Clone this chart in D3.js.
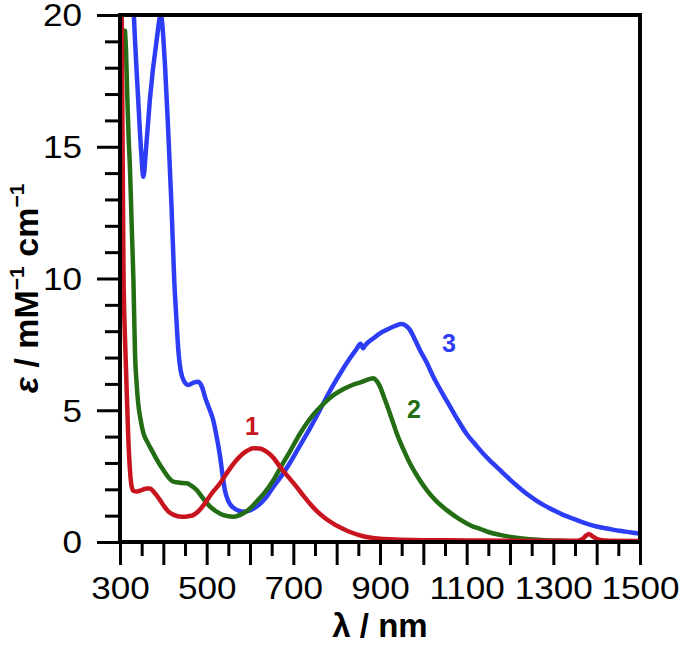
<!DOCTYPE html>
<html>
<head>
<meta charset="utf-8">
<script src="https://cdn.jsdelivr.net/npm/d3@7/dist/d3.min.js"></script>
<style>
  html, body { margin: 0; padding: 0; background: #fff; }
  svg { display: block; }
  text { font-family: "Liberation Sans", Arial, Helvetica, sans-serif; }
</style>
</head>
<body>
<svg id="chart" width="680" height="645"></svg>
<script>
// ---- data (wavelength in nm, epsilon in mM^-1 cm^-1) ----
const redNm  = [300, 304, 308, 311, 314, 319, 323, 327, 332, 339, 350, 362, 369, 378, 392, 402, 412, 425, 442, 458, 469, 483, 496, 512, 531, 550, 569, 590, 608, 622, 638, 654, 669, 688, 708, 725, 740, 755, 772, 792, 812, 831, 850, 869, 900, 946, 1000, 1100, 1200, 1300, 1355, 1368, 1376, 1382, 1390, 1400, 1412, 1430, 1500];
const redEps = [30, 20, 10.3, 8, 6.5, 4.0, 2.73, 2.1, 1.93, 1.92, 1.97, 2.03, 2.03, 1.9, 1.6, 1.35, 1.15, 1.02, 0.96, 0.98, 1.02, 1.2, 1.47, 1.85, 2.23, 2.7, 3.11, 3.43, 3.56, 3.55, 3.43, 3.2, 2.86, 2.48, 2.08, 1.72, 1.42, 1.16, 0.92, 0.7, 0.52, 0.38, 0.27, 0.19, 0.12, 0.09, 0.07, 0.06, 0.05, 0.05, 0.05, 0.12, 0.25, 0.3, 0.22, 0.12, 0.07, 0.05, 0.04];

const greenNm  = [311.5, 314, 317, 320, 323, 327, 331, 334.6, 338, 342, 348, 354, 363, 373, 386, 400, 412, 423, 438, 454, 466, 477, 492, 508, 523, 538.5, 561.5, 584.6, 600, 615, 635, 654, 673, 692, 715, 735, 755, 775, 795, 815, 835, 855, 875, 884, 892, 900, 908, 917, 927, 938.5, 953, 969, 988, 1008, 1030, 1054, 1085, 1115, 1131, 1150, 1177, 1210, 1246, 1280, 1330];
const greenEps = [19.4, 18.6, 16.8, 15.3, 14.2, 12.0, 9.94, 7.16, 6.1, 5.26, 4.6, 4.13, 3.8, 3.49, 3.1, 2.73, 2.45, 2.29, 2.25, 2.23, 2.12, 1.97, 1.65, 1.34, 1.15, 1.02, 0.96, 1.09, 1.27, 1.53, 1.9, 2.35, 2.9, 3.43, 4.1, 4.6, 5.0, 5.33, 5.6, 5.8, 5.95, 6.06, 6.18, 6.21, 6.12, 5.9, 5.55, 5.15, 4.68, 4.13, 3.55, 2.99, 2.45, 1.97, 1.55, 1.21, 0.85, 0.58, 0.5, 0.38, 0.27, 0.17, 0.1, 0.07, 0.04];

const blueNm  = [320, 332, 342, 348.5, 354, 360, 369, 384.6, 394, 404, 411.5, 419, 425, 430, 435, 440, 448, 458, 470, 481, 490, 496, 505, 515, 523, 531, 537, 542, 550, 561.5, 575, 585, 600, 615, 635, 654, 673, 692, 715, 738, 754, 773, 792, 812, 831, 845, 855, 858, 861, 865, 885, 900, 915, 935, 950, 960, 969, 980, 992, 1008, 1023, 1042, 1062, 1080, 1100, 1120, 1140, 1160, 1180, 1200, 1220, 1240, 1260, 1280, 1300, 1320, 1340, 1360, 1380, 1400, 1420, 1440, 1460, 1480, 1500];
const blueEps = [26, 20, 16.8, 14.9, 13.86, 14.9, 16.8, 19.05, 20.0, 18.04, 15.5, 12.7, 10.0, 8.5, 7.2, 6.5, 6.1, 5.96, 6.05, 6.08, 5.85, 5.51, 5.1, 4.63, 4.0, 3.24, 2.5, 1.97, 1.55, 1.3, 1.18, 1.15, 1.2, 1.34, 1.65, 2.1, 2.52, 3.0, 3.65, 4.3, 4.78, 5.38, 5.95, 6.5, 6.98, 7.3, 7.52, 7.45, 7.35, 7.45, 7.73, 7.92, 8.05, 8.2, 8.27, 8.2, 8.05, 7.7, 7.29, 6.8, 6.27, 5.7, 5.13, 4.62, 4.1, 3.7, 3.32, 2.99, 2.68, 2.37, 2.08, 1.81, 1.58, 1.38, 1.21, 1.05, 0.92, 0.79, 0.68, 0.59, 0.52, 0.46, 0.41, 0.36, 0.32];

const xMajorTicks = [300, 400, 500, 600, 700, 800, 900, 1000, 1100, 1200, 1300, 1400, 1500];
const xLabelTicks = [300, 500, 700, 900, 1100, 1300, 1500];
const xMinorTicks = [350, 450, 550, 650, 750, 850, 950, 1050, 1150, 1250, 1350, 1450];
const yMajorTicks = [0, 5, 10, 15, 20];
const yMinorTicks = [1, 2, 3, 4, 6, 7, 8, 9, 11, 12, 13, 14, 16, 17, 18, 19];

const seriesNames = ["3", "2", "1"];
const colors = { "1": "#c8141e", "2": "#236e14", "3": "#2c3df5" };

// ---- layout ----
const svg = d3.select("#chart");
const L = 120, R = 640, T = 15, B = 542;
const x = d3.scaleLinear().domain([300, 1500]).range([L, R]);
const y = d3.scaleLinear().domain([0, 20]).range([B, T]);
const SX = 1.15; // horizontal stretch of tick label glyphs

svg.append("defs").append("clipPath").attr("id", "clip")
  .append("rect").attr("x", L).attr("y", T).attr("width", R - L).attr("height", B - T);

const line = d3.line().x(d => x(d[0])).y(d => y(d[1])).curve(d3.curveMonotoneX);

const series = {
  "1": redNm.map((v, i) => [v, redEps[i]]),
  "2": greenNm.map((v, i) => [v, greenEps[i]]),
  "3": blueNm.map((v, i) => [v, blueEps[i]])
};

const g = svg.append("g").attr("clip-path", "url(#clip)");
seriesNames.forEach(k => {
  g.append("path").datum(series[k])
    .attr("d", line)
    .attr("fill", "none")
    .attr("stroke", colors[k])
    .attr("stroke-width", 4.5)
    .attr("stroke-linejoin", "round")
    .attr("stroke-linecap", "round");
});

// ---- axes ----
function styleAxis(sel) {
  sel.select(".domain").remove();
  sel.selectAll(".tick line").attr("stroke", "#000").attr("stroke-width", 3);
  sel.selectAll(".tick text").attr("fill", "#000").attr("font-size", 30.5)
    .style("font-family", "'Liberation Sans', Arial, sans-serif");
}

svg.append("g").attr("transform", `translate(0,${B})`)
  .call(d3.axisBottom(x).tickValues(xMinorTicks).tickSize(14).tickFormat(""))
  .call(styleAxis);
const xAx = svg.append("g").attr("transform", `translate(0,${B})`)
  .call(d3.axisBottom(x).tickValues(xMajorTicks).tickSize(23)
        .tickFormat(d => xLabelTicks.includes(d) ? d : "").tickPadding(12))
  .call(styleAxis);
xAx.selectAll(".tick text").attr("transform", `scale(${SX},1)`);

svg.append("g").attr("transform", `translate(${L},0)`)
  .call(d3.axisLeft(y).tickValues(yMinorTicks).tickSize(15).tickFormat(""))
  .call(styleAxis);
const yAx = svg.append("g").attr("transform", `translate(${L},0)`)
  .call(d3.axisLeft(y).tickValues(yMajorTicks).tickSize(23).tickPadding(15).tickFormat(d3.format("d")))
  .call(styleAxis);
yAx.selectAll(".tick text")
  .attr("x", -38 / SX)
  .attr("dy", "0.36em")
  .attr("transform", `scale(${SX},1)`);

// frame
svg.append("rect").attr("x", L).attr("y", T).attr("width", R - L).attr("height", B - T)
  .attr("fill", "none").attr("stroke", "#000").attr("stroke-width", 4);

// ---- series labels ----
const lblPx = { "1": [252, 435], "2": [414, 418], "3": [449, 352] };
["1", "2", "3"].forEach(k => {
  svg.append("text")
    .attr("x", lblPx[k][0]).attr("y", lblPx[k][1])
    .attr("text-anchor", "middle")
    .attr("font-size", 25).attr("font-weight", "bold")
    .attr("fill", colors[k]).text(k);
});

// ---- axis titles ----
svg.append("text")
  .attr("x", (L + R) / 2).attr("y", 637)
  .attr("text-anchor", "middle")
  .attr("font-size", 33).attr("font-weight", "bold")
  .text("λ / nm");

const yt = svg.append("text")
  .attr("transform", `translate(38,${(T + B) / 2 + 10}) rotate(-90)`)
  .attr("text-anchor", "middle")
  .attr("font-size", 34).attr("font-weight", "bold");
yt.append("tspan").attr("font-style", "italic").text("ε");
yt.append("tspan").text(" / mM");
yt.append("tspan").attr("font-size", 21).attr("dy", -14).text("−1");
yt.append("tspan").attr("dy", 14).text(" cm");
yt.append("tspan").attr("font-size", 21).attr("dy", -14).text("−1");
</script>
</body>
</html>
